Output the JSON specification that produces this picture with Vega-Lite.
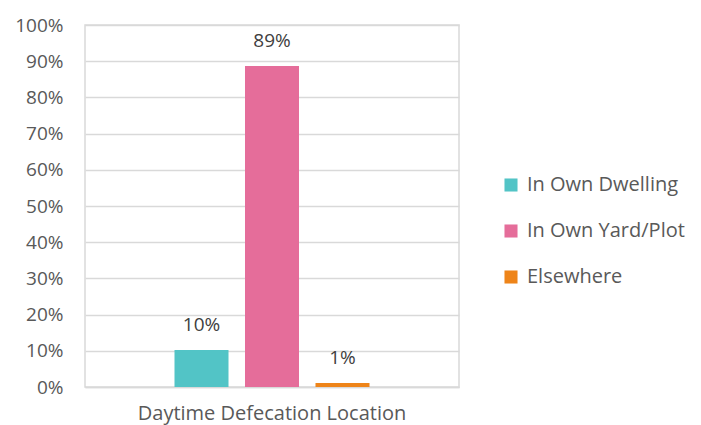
{
  "$schema": "https://vega.github.io/schema/vega-lite/v6.json",
  "autosize": {"type": "none"},
  "padding": {"left": 85, "top": 25, "right": 242, "bottom": 38},
  "width": 374,
  "height": 362,
  "background": "white",
  "config": {
    "font": "Open Sans",
    "view": {"stroke": "#d9d9d9", "strokeWidth": 1.5}
  },
  "data": {
    "values": [
      {"category": "Daytime Defecation Location", "location": "In Own Dwelling", "value": 0.102, "label": "10%"},
      {"category": "Daytime Defecation Location", "location": "In Own Yard/Plot", "value": 0.887, "label": "89%"},
      {"category": "Daytime Defecation Location", "location": "Elsewhere", "value": 0.011, "label": "1%"}
    ]
  },
  "encoding": {
    "x": {
      "field": "category", "type": "nominal",
      "scale": {"paddingInner": 0, "paddingOuter": 0.459},
      "axis": {
        "title": null, "labelAngle": 0, "labelFontSize": 20, "labelColor": "#595959", "labelLimit": 500,
        "labelPadding": 16, "ticks": false, "domainColor": "#d9d9d9", "domainWidth": 1.5
      }
    },
    "xOffset": {
      "field": "location", "type": "nominal",
      "sort": ["In Own Dwelling", "In Own Yard/Plot", "Elsewhere"],
      "scale": {"paddingInner": 0.234, "paddingOuter": 0}
    },
    "y": {
      "field": "value", "type": "quantitative",
      "scale": {"domain": [0, 1]},
      "axis": {
        "title": null, "format": ".0%", "values": [0, 0.1, 0.2, 0.3, 0.4, 0.5, 0.6, 0.7, 0.8, 0.9, 1],
        "labelFontSize": 19, "labelColor": "#595959", "labelPadding": 22,
        "ticks": false, "domain": false, "gridColor": "#d9d9d9", "gridWidth": 1.5
      }
    }
  },
  "layer": [
    {
      "mark": {"type": "bar"},
      "encoding": {
        "color": {
          "field": "location", "type": "nominal",
          "sort": ["In Own Dwelling", "In Own Yard/Plot", "Elsewhere"],
          "scale": {
            "domain": ["In Own Dwelling", "In Own Yard/Plot", "Elsewhere"],
            "range": ["#52c4c6", "#e56d9a", "#ee8419"]
          },
          "legend": {
            "title": null, "orient": "none", "legendX": 416, "legendY": 150,
            "symbolType": "square", "symbolSize": 170, "symbolStrokeWidth": 0,
            "labelFontSize": 20, "labelColor": "#595959", "rowPadding": 26, "labelOffset": 6
          }
        }
      }
    },
    {
      "mark": {"type": "text", "baseline": "bottom", "dy": -15, "fontSize": 19, "color": "#404040"},
      "encoding": {"text": {"field": "label"}}
    }
  ]
}
